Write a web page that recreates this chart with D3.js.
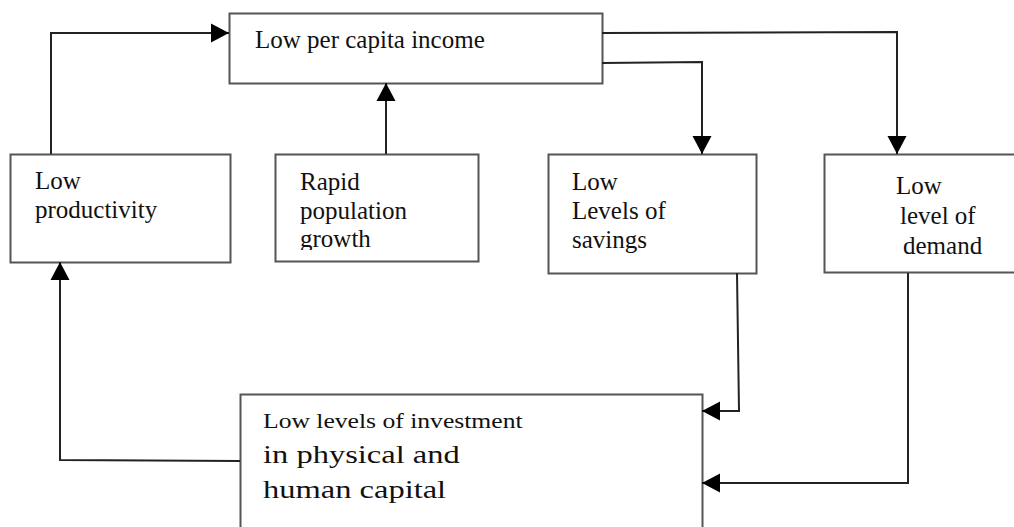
<!DOCTYPE html>
<html>
<head>
<meta charset="utf-8">
<script src="https://cdn.jsdelivr.net/npm/d3@7"></script>
<style>
  html, body { margin: 0; padding: 0; background: #fff; }
  svg { display: block; }
  .label text { font-family: "Liberation Serif", Tinos, "Times New Roman", "DejaVu Serif", serif; }
</style>
</head>
<body>
<script>
// node ids and their label lines
var nodeIds = ["income", "productivity", "population", "savings", "demand", "investment"];
var incomeLines = ["Low per capita income"];
var productivityLines = ["Low", "productivity"];
var populationLines = ["Rapid", "population", "growth"];
var savingsLines = ["Low", "Levels of", "savings"];
var demandLines = ["Low", "level of", "demand"];
var investmentLines = ["Low levels of investment", "in physical and", "human capital"];

// links: source -> target
var linkSources = ["productivity", "population", "income", "income", "savings", "demand", "investment"];
var linkTargets = ["income", "income", "savings", "demand", "investment", "investment", "productivity"];

var width = 1014,
    height = 527;

var svg = d3.select("body").append("svg")
    .attr("width", width)
    .attr("height", height);

// box layout
var boxes = {
    income:       {x: 229, y: 13,  w: 373, h: 70},
    productivity: {x: 10,  y: 154, w: 220, h: 108},
    population:   {x: 275, y: 154, w: 203, h: 107},
    savings:      {x: 548, y: 154, w: 208, h: 119},
    demand:       {x: 824, y: 154, w: 200, h: 118},
    investment:   {x: 240, y: 394, w: 462, h: 150}
};

// text layout per node: start x, baselines, font sizes, horizontal stretch, x offsets
var textLayout = {
    income:       {x: 255, y: [48], size: [25], sx: 1},
    productivity: {x: 35,  y: [189, 218], size: [25, 25], sx: 1},
    population:   {x: 300, y: [190, 219, 247], size: [25, 25, 25], sx: 1, clip: 250},
    savings:      {x: 572, y: [190, 219, 248], size: [25, 25, 25], sx: 1},
    demand:       {x: 896, dx: [0, 4, 7], y: [194, 224, 254], size: [25, 25, 25], sx: 1},
    investment:   {x: 263, y: [428, 463, 498], size: [20.5, 26, 26], sx: 1.25}
};

var labels = {
    income: incomeLines,
    productivity: productivityLines,
    population: populationLines,
    savings: savingsLines,
    demand: demandLines,
    investment: investmentLines
};

// routed link paths (elbow points)
var routes = [
    [[51, 154], [51, 33], [229, 33]],
    [[386, 154], [386, 83]],
    [[602, 63], [702, 62], [702, 154]],
    [[602, 33], [897, 32], [897, 154]],
    [[737, 273], [739, 411], [702, 411]],
    [[908, 273], [908, 483], [702, 483]],
    [[240, 461], [60, 460], [60, 262]]
];

var links = linkSources.map(function(s, i) {
    return {source: s, target: linkTargets[i], points: routes[i]};
});

var defs = svg.append("defs");

defs.append("marker")
    .attr("id", "arrow")
    .attr("markerUnits", "userSpaceOnUse")
    .attr("viewBox", "0 -10 18 20")
    .attr("refX", 18)
    .attr("refY", 0)
    .attr("markerWidth", 18)
    .attr("markerHeight", 20)
    .attr("orient", "auto")
  .append("path")
    .attr("d", "M0,-9.5L18,0L0,9.5Z")
    .attr("fill", "#000");

var line = d3.line();

// boxes
svg.selectAll(".box")
    .data(nodeIds)
  .enter().append("rect")
    .attr("class", "box")
    .attr("x", function(d) { return boxes[d].x + 0.5; })
    .attr("y", function(d) { return boxes[d].y + 0.5; })
    .attr("width", function(d) { return boxes[d].w; })
    .attr("height", function(d) { return boxes[d].h; })
    .attr("fill", "#fff")
    .attr("stroke", "#555")
    .attr("stroke-width", 2);

// links
svg.selectAll(".link")
    .data(links)
  .enter().append("path")
    .attr("class", "link")
    .attr("d", function(d) { return line(d.points); })
    .attr("fill", "none")
    .attr("stroke", "#222")
    .attr("stroke-width", 2)
    .attr("marker-end", "url(#arrow)");

// clip paths for text that overflows its box
nodeIds.forEach(function(id) {
    var t = textLayout[id];
    if (t.clip) {
        defs.append("clipPath")
            .attr("id", "clip-" + id)
          .append("rect")
            .attr("x", boxes[id].x)
            .attr("y", boxes[id].y)
            .attr("width", boxes[id].w)
            .attr("height", t.clip - boxes[id].y);
    }
});

var labelGroups = svg.selectAll(".label")
    .data(nodeIds)
  .enter().append("g")
    .attr("class", "label")
    .attr("clip-path", function(d) { return textLayout[d].clip ? "url(#clip-" + d + ")" : null; });

labelGroups.each(function(id) {
    var t = textLayout[id];
    d3.select(this).selectAll("text")
        .data(labels[id])
      .enter().append("text")
        .attr("transform", function(d, i) {
            var x = t.x + (t.dx ? t.dx[i] : 0);
            return "translate(" + x + "," + t.y[i] + ") scale(" + t.sx + ",1)";
        })
        .style("font-size", function(d, i) { return t.size[i] + "px"; })
        .attr("fill", "#111")
        .text(function(d) { return d; });
});
</script>
</body>
</html>
